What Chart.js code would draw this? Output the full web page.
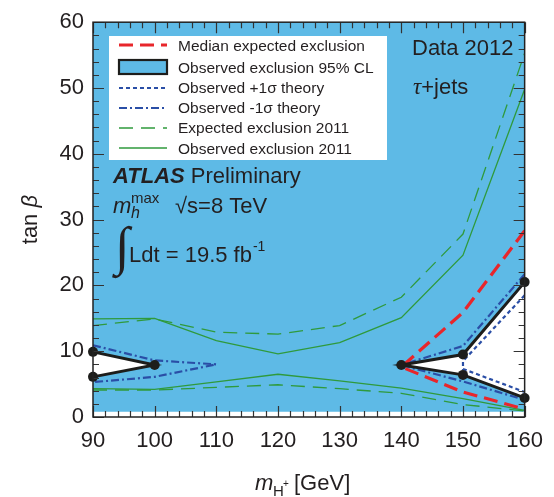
<!DOCTYPE html>
<html>
<head>
<meta charset="utf-8">
<script src="https://cdn.jsdelivr.net/npm/chart.js@4.4.1/dist/chart.umd.min.js"></script>
<style>
  html, body { margin: 0; padding: 0; background: #fff; }
</style>
</head>
<body>
<canvas id="exclusion-chart" width="554" height="497"></canvas>
<script>
// Axis ticks
const massTicks = [90, 100, 110, 120, 130, 140, 150, 160];
const tanbTicks = [0, 10, 20, 30, 40, 50, 60];
const minorStep = 2;

// Observed exclusion 95% CL (black contour, white = not excluded)
const obsLeftMass = [90, 100, 90];
const obsLeftTanb = [9.9, 7.9, 6.1];
const obsRightMass = [160, 150, 140, 150, 160];
const obsRightTanb = [20.5, 9.5, 7.9, 6.4, 2.9];
const fillFloor = 0.8; // lower edge of the shaded area

// Median expected exclusion (red)
const medMass = [160, 150, 140, 150, 160];
const medTanb = [28.3, 15.9, 7.6, 3.8, 1.2];

// Observed +1 sigma theory (blue dotted)
const plusMass = [160, 150, 150, 160];
const plusTanb = [18.5, 8.5, 7.3, 3.8];

// Observed -1 sigma theory (blue dash-dot)
const minusLeftMass = [90, 100, 110, 100, 90];
const minusLeftTanb = [10.9, 8.6, 8.0, 6.1, 5.3];
const minusRightMass = [160, 150, 140, 150, 160];
const minusRightTanb = [21.7, 10.8, 7.9, 5.4, 2.6];

// 2011 results (green)
const mass2011 = [90, 100, 110, 120, 130, 140, 150, 160];
const exp2011Upper = [13.9, 14.9, 12.9, 12.6, 13.9, 18.2, 27.8, 55.3];
const exp2011Lower = [4.1, 4.1, 4.5, 4.9, 4.3, 3.6, 1.9, 0.9];
const obs2011Upper = [14.9, 15.0, 11.6, 9.6, 11.3, 15.1, 24.6, 49.8];
const obs2011Lower = [4.3, 4.2, 5.35, 6.5, 5.5, 4.4, 2.8, 1.0];

const legendLabels = [
  "Median expected exclusion",
  "Observed exclusion 95% CL",
  "Observed +1\u03c3 theory",
  "Observed -1\u03c3 theory",
  "Expected exclusion 2011",
  "Observed exclusion 2011"
];

// Colours / styles
const FONT = "'Liberation Sans', Arial, Helvetica, sans-serif";
const TEXT = "#231f20";
const FILL_BLUE = "rgb(94,186,230)";
const GREEN = "#2f9a3c";
const RED = "#e8262b";
const DBLUE = "#2a4ea6";
const BLACK = "#1d1d1b";
const DASH_RED = [14, 7];
const DASH_GREEN = [14, 8];
const DASH_DOT = [8, 3, 2, 3];
const DOTTED = [4, 3];

const pts = (xs, ys) => xs.map((x, i) => ({ x: x, y: ys[i] }));

const xMin = massTicks[0], xMax = massTicks[massTicks.length - 1];
const yMin = tanbTicks[0], yMax = tanbTicks[tanbTicks.length - 1];

// polygon of the excluded region (plot box minus the two holes)
const fillPts = [{ x: xMin, y: yMax }, { x: xMax, y: yMax }]
  .concat(pts(obsRightMass, obsRightTanb))
  .concat([{ x: xMax, y: fillFloor }, { x: xMin, y: fillFloor }])
  .concat(pts(obsLeftMass, obsLeftTanb).reverse());

function curve(data, color, width, dash, order) {
  return {
    data: data, borderColor: color, borderWidth: width, borderDash: dash,
    pointRadius: 0, fill: false, tension: 0, order: order
  };
}

function obsCurve(data) {
  return {
    data: data, borderColor: BLACK, borderWidth: 3, pointRadius: 5,
    pointBackgroundColor: BLACK, pointBorderColor: BLACK, pointBorderWidth: 0,
    fill: false, tension: 0, order: 1, clip: false
  };
}

function drawLineSample(ctx, y, color, width, dash) {
  ctx.save();
  ctx.strokeStyle = color;
  ctx.lineWidth = width;
  ctx.setLineDash(dash);
  ctx.beginPath();
  ctx.moveTo(119, y);
  ctx.lineTo(167, y);
  ctx.stroke();
  ctx.restore();
}

const decor = {
  id: "decor",
  afterDatasetsDraw(chart) {
    const ctx = chart.ctx;
    const { left, right, top, bottom } = chart.chartArea;
    const xs = chart.scales.x, ys = chart.scales.y;

    // inward ticks on all four sides
    ctx.save();
    ctx.strokeStyle = "#333";
    ctx.lineWidth = 1.2;
    ctx.beginPath();
    for (let m = xMin; m <= xMax; m += minorStep) {
      const px = Math.round(xs.getPixelForValue(m)) + 0.5;
      const len = m % 10 === 0 ? 11 : 6;
      ctx.moveTo(px, bottom); ctx.lineTo(px, bottom - len);
      ctx.moveTo(px, top); ctx.lineTo(px, top + len);
    }
    for (let t = yMin; t <= yMax; t += minorStep) {
      const py = Math.round(ys.getPixelForValue(t)) + 0.5;
      const len = t % 10 === 0 ? 11 : 6;
      ctx.moveTo(left, py); ctx.lineTo(left + len, py);
      ctx.moveTo(right, py); ctx.lineTo(right - len, py);
    }
    ctx.stroke();
    ctx.strokeStyle = "#222";
    ctx.lineWidth = 1.5;
    ctx.strokeRect(left, top, right - left, bottom - top);
    ctx.restore();

    // legend box
    ctx.save();
    ctx.fillStyle = "#fff";
    ctx.fillRect(109, 36, 278, 124);
    drawLineSample(ctx, 45, RED, 3, DASH_RED);
    ctx.fillStyle = FILL_BLUE;
    ctx.fillRect(119, 60, 48, 14);
    ctx.strokeStyle = BLACK;
    ctx.lineWidth = 2.2;
    ctx.strokeRect(119, 60, 48, 14);
    drawLineSample(ctx, 88, DBLUE, 2, DOTTED);
    drawLineSample(ctx, 108, DBLUE, 2, DASH_DOT);
    drawLineSample(ctx, 128, GREEN, 1.3, DASH_GREEN);
    drawLineSample(ctx, 148, GREEN, 1.3, []);
    const baselines = [50.7, 73.3, 93.3, 113.3, 133.3, 154];
    ctx.fillStyle = TEXT;
    ctx.font = "15.5px " + FONT;
    ctx.textBaseline = "alphabetic";
    legendLabels.forEach((lab, i) => ctx.fillText(lab, 178, baselines[i]));
    ctx.restore();

    // annotations
    ctx.save();
    ctx.fillStyle = TEXT;
    ctx.textBaseline = "alphabetic";
    ctx.font = "22px " + FONT;
    ctx.fillText("Data 2012", 412, 55);
    ctx.font = "italic 23px 'Liberation Serif', 'Times New Roman', serif";
    ctx.fillText("\u03c4", 413, 94);
    const tauW = ctx.measureText("\u03c4").width;
    ctx.font = "22px " + FONT;
    ctx.fillText("+jets", 413 + tauW, 94);

    ctx.font = "bold italic 22px " + FONT;
    ctx.fillText("ATLAS", 113, 183);
    const atlasW = ctx.measureText("ATLAS ").width;
    ctx.font = "22px " + FONT;
    ctx.fillText("Preliminary", 113 + atlasW, 183);

    ctx.font = "italic 22px " + FONT;
    ctx.fillText("m", 113, 213);
    ctx.font = "italic 16px " + FONT;
    ctx.fillText("h", 131, 218);
    ctx.font = "15px " + FONT;
    ctx.fillText("max", 131, 203);
    ctx.font = "22px " + FONT;
    ctx.fillText("\u221as=8 TeV", 175, 213);

    // integral sign scaled to its box
    const intFont = "'Liberation Serif', 'DejaVu Serif', serif";
    ctx.font = "100px " + intFont;
    const im = ctx.measureText("\u222b");
    const ih = im.actualBoundingBoxAscent + im.actualBoundingBoxDescent;
    const isz = 100 * 53 / ih;
    ctx.font = isz + "px " + intFont;
    const im2 = ctx.measureText("\u222b");
    ctx.fillText("\u222b", 112 + im2.actualBoundingBoxLeft, 225 + im2.actualBoundingBoxAscent);
    ctx.font = "22px " + FONT;
    ctx.fillText("Ldt = 19.5 fb", 129, 262);
    const ldtW = ctx.measureText("Ldt = 19.5 fb").width;
    ctx.font = "14px " + FONT;
    ctx.fillText("-1", 129 + ldtW + 1, 251);
    ctx.restore();

    // axis titles
    ctx.save();
    ctx.fillStyle = TEXT;
    ctx.textBaseline = "alphabetic";
    ctx.font = "italic 22px " + FONT;
    ctx.fillText("m", 255, 490);
    ctx.font = "15px " + FONT;
    ctx.fillText("H", 273, 496);
    ctx.font = "10px " + FONT;
    ctx.fillText("+", 283, 487);
    ctx.font = "22px " + FONT;
    ctx.fillText("[GeV]", 294, 490);

    ctx.translate(37, (top + bottom) / 2);
    ctx.rotate(-Math.PI / 2);
    ctx.font = "22px " + FONT;
    const tanW = ctx.measureText("tan ").width;
    ctx.font = "italic 22px " + FONT;
    const betaW = ctx.measureText("\u03b2").width;
    const x0 = -(tanW + betaW) / 2;
    ctx.font = "22px " + FONT;
    ctx.fillText("tan ", x0, 0);
    ctx.font = "italic 22px " + FONT;
    ctx.fillText("\u03b2", x0 + tanW, 0);
    ctx.restore();
  }
};

const tickFont = { family: FONT, size: 22 };

new Chart(document.getElementById("exclusion-chart").getContext("2d"), {
  type: "line",
  data: {
    datasets: [
      { data: fillPts, backgroundColor: FILL_BLUE, borderWidth: 0, borderColor: "rgba(0,0,0,0)",
        pointRadius: 0, fill: "shape", tension: 0, order: 100 },
      curve(pts(mass2011, exp2011Upper), GREEN, 1.3, DASH_GREEN, 50),
      curve(pts(mass2011, exp2011Lower), GREEN, 1.3, DASH_GREEN, 50),
      curve(pts(mass2011, obs2011Upper), GREEN, 1.3, [], 50),
      curve(pts(mass2011, obs2011Lower), GREEN, 1.3, [], 50),
      curve(pts(minusLeftMass, minusLeftTanb), DBLUE, 2.2, DASH_DOT, 30),
      curve(pts(minusRightMass, minusRightTanb), DBLUE, 2.2, DASH_DOT, 30),
      curve(pts(plusMass, plusTanb), DBLUE, 2.2, DOTTED, 30),
      curve(pts(medMass, medTanb), RED, 3.2, DASH_RED, 20),
      obsCurve(pts(obsLeftMass, obsLeftTanb)),
      obsCurve(pts(obsRightMass, obsRightTanb))
    ]
  },
  options: {
    responsive: false,
    animation: false,
    events: [],
    layout: { padding: { top: 18, right: 29, left: 0, bottom: 0 } },
    plugins: { legend: { display: false }, tooltip: { enabled: false } },
    scales: {
      x: {
        type: "linear", min: xMin, max: xMax,
        grid: { display: false, drawTicks: false }, border: { display: false },
        afterBuildTicks: s => { s.ticks = massTicks.map(v => ({ value: v })); },
        afterFit: s => { s.height = 80; },
        ticks: { font: tickFont, color: TEXT, padding: 11, maxRotation: 0, autoSkip: false }
      },
      y: {
        type: "linear", min: yMin, max: yMax,
        grid: { display: false, drawTicks: false }, border: { display: false },
        afterBuildTicks: s => { s.ticks = tanbTicks.map(v => ({ value: v })); },
        afterFit: s => { s.width = 93; },
        ticks: { font: tickFont, color: TEXT, padding: 9, autoSkip: false }
      }
    }
  },
  plugins: [decor]
});
</script>
</body>
</html>
